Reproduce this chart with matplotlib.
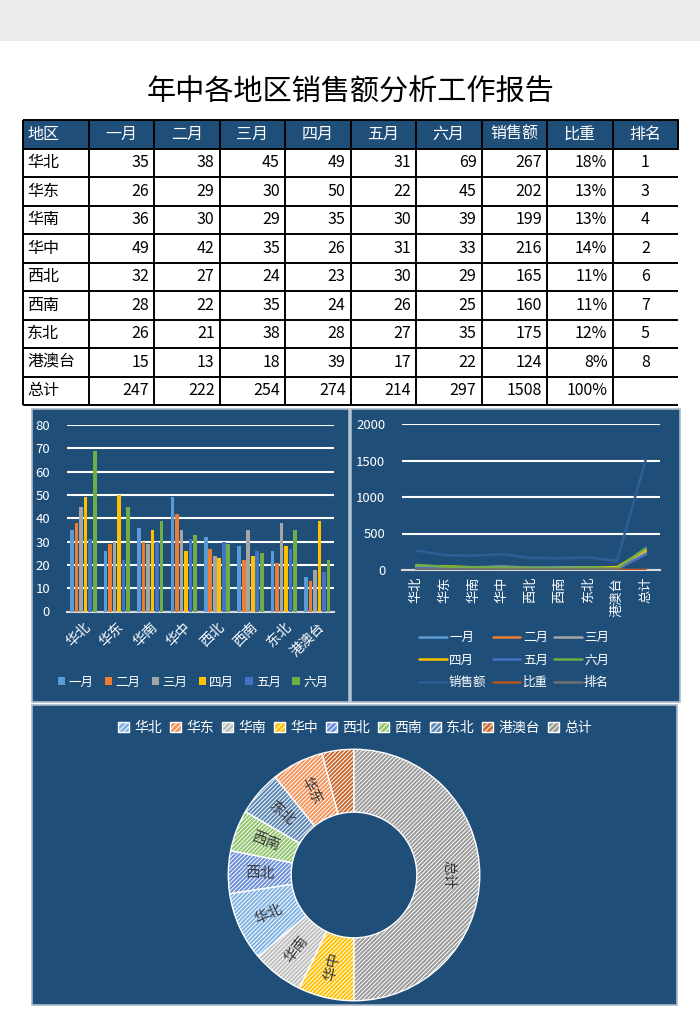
import numpy as np
import matplotlib.pyplot as plt
from matplotlib.patches import Rectangle, Patch

plt.rcParams['font.family'] = ['Noto Sans CJK SC', 'DejaVu Sans']
plt.rcParams['hatch.linewidth'] = 0.7

regions = ['华北', '华东', '华南', '华中', '西北', '西南', '东北', '港澳台']
months = ['一月', '二月', '三月', '四月', '五月', '六月']
jan = [35, 26, 36, 49, 32, 28, 26, 15]
feb = [38, 29, 30, 42, 27, 22, 21, 13]
mar = [45, 30, 29, 35, 24, 35, 38, 18]
apr = [49, 50, 35, 26, 23, 24, 28, 39]
may = [31, 22, 30, 31, 30, 26, 27, 17]
jun = [69, 45, 39, 33, 29, 25, 35, 22]
sales = [267, 202, 199, 216, 165, 160, 175, 124]
share = [0.18, 0.13, 0.13, 0.14, 0.11, 0.11, 0.12, 0.08]
rank = [1, 3, 4, 2, 6, 7, 5, 8]
total_name = '总计'
header = ['地区'] + months + ['销售额', '比重', '排名']

monthly = [jan, feb, mar, apr, may, jun]
month_totals = [sum(m) for m in monthly]
sales_total = sum(sales)

month_colors = ['#5B9BD5', '#ED7D31', '#A5A5A5', '#FFC000', '#4472C4', '#70AD47']
extra_colors = ['#2E5F94', '#B4521A', '#707070']   # 销售额, 比重, 排名
donut_colors = ['#7FB3E3', '#F2935A', '#BDBDBD', '#FFC000', '#6B8ED6',
                '#92C46E', '#5C86B3', '#C86A30', '#9A9A9A']
panel_bg = '#1F4E79'

fig = plt.figure(figsize=(7, 10.3), dpi=100)


def add_px(x0, y0, x1, y1, **kw):
    return fig.add_axes([x0 / 700, 1 - y1 / 1030, (x1 - x0) / 700, (y1 - y0) / 1030], **kw)


# base layer in pixel coordinates
base = add_px(0, 0, 700, 1030)
base.set_xlim(0, 700)
base.set_ylim(1030, 0)
base.axis('off')
base.add_patch(Rectangle((0, 0), 700, 41, color='#EBEBEB', lw=0))
base.text(350, 93, '年中各地区销售额分析工作报告', fontsize=21, ha='center', va='center', color='black')

# ---- table ----
col_x = [23 + 65.5 * i for i in range(11)]
row_y = [120 + 28.5 * i for i in range(11)]
base.add_patch(Rectangle((col_x[0], row_y[0]), col_x[10] - col_x[0], row_y[1] - row_y[0],
                         facecolor=panel_bg, lw=0))
for y in row_y:
    base.plot([col_x[0], col_x[10]], [y, y], color='black', lw=1.4, solid_capstyle='butt')
for x in col_x[:10]:
    base.plot([x, x], [row_y[0], row_y[10]], color='black', lw=1.4, solid_capstyle='butt')
base.plot([col_x[10], col_x[10]], [row_y[0], row_y[1]], color='black', lw=1.4)

fs = 11.5
for j, h in enumerate(header):
    yc = (row_y[0] + row_y[1]) / 2
    if j == 0:
        base.text(col_x[0] + 4, yc, h, color='white', fontsize=fs, ha='left', va='center')
    else:
        base.text((col_x[j] + col_x[j + 1]) / 2, yc, h, color='white', fontsize=fs, ha='center', va='center')

rows = []
for i, r in enumerate(regions):
    rows.append([r] + [str(m[i]) for m in monthly] + [str(sales[i]), f'{share[i]:.0%}', str(rank[i])])
rows.append([total_name] + [str(t) for t in month_totals] + [str(sales_total), '100%', ''])

for i, row in enumerate(rows):
    yc = (row_y[i + 1] + row_y[i + 2]) / 2
    for j, cell in enumerate(row):
        if j == 0:
            base.text(col_x[0] + 4, yc, cell, fontsize=fs, ha='left', va='center', color='black')
        elif j == 9:
            base.text((col_x[j] + col_x[j + 1]) / 2, yc, cell, fontsize=fs, ha='center', va='center', color='black')
        else:
            base.text(col_x[j + 1] - 5, yc, cell, fontsize=fs, ha='right', va='center', color='black')

# ---- panels ----
for (x0, y0, x1, y1) in [(32, 409, 349, 702), (351, 409, 680, 702), (32, 705, 677, 1005)]:
    base.add_patch(Rectangle((x0, y0), x1 - x0, y1 - y0, facecolor=panel_bg,
                             edgecolor='#A9B9CC', lw=1.2))

tick_kw = dict(colors='white', labelsize=9.5, length=0)

# ---- clustered bar chart ----
axb = add_px(66.7, 425, 334, 611.5)
axb.set_facecolor('none')
x = np.arange(len(regions))
for i, (name, vals) in enumerate(zip(months, monthly)):
    axb.bar(x + (i - 2.5) * 0.135, vals, 0.11, color=month_colors[i], label=name, zorder=3)
axb.set_xlim(-0.5, len(regions) - 0.5)
axb.set_ylim(0, 80)
axb.set_yticks(range(0, 81, 10))
axb.yaxis.grid(True, color='white', lw=1.5, zorder=0)
axb.set_axisbelow(True)
for s in ['top', 'right', 'left']:
    axb.spines[s].set_visible(False)
axb.spines['bottom'].set_color('#D9D9D9')
axb.spines['bottom'].set_linewidth(1.5)
axb.tick_params(axis='y', pad=12, **tick_kw)
axb.tick_params(axis='x', pad=6, **tick_kw)
axb.set_xticks(x)
axb.set_xticklabels(regions, rotation=45, ha='right', rotation_mode='anchor', fontsize=10)
axb.legend(loc='center', bbox_to_anchor=(193 / 700, 1 - 682 / 1030), bbox_transform=fig.transFigure,
           ncol=6, frameon=False, fontsize=9, handlelength=0.6, handleheight=0.6,
           handletextpad=0.25, columnspacing=0.9, labelcolor='white')

# ---- line chart ----
axl = add_px(402, 424, 660, 570)
axl.set_facecolor('none')
cats = regions + [total_name]
xl = np.arange(len(cats))
series = [(m, vals + [tot], c) for m, vals, tot, c in zip(months, monthly, month_totals, month_colors)]
series.append(('销售额', sales + [sales_total], extra_colors[0]))
series.append(('比重', share + [1.0], extra_colors[1]))
series.append(('排名', rank + [np.nan], extra_colors[2]))
handles = []
for name, vals, c in series:
    ln, = axl.plot(xl, vals, color=c, lw=1.8, label=name, zorder=3, solid_capstyle='round')
    handles.append(ln)
axl.set_xlim(-0.5, len(cats) - 0.5)
axl.set_ylim(0, 2000)
axl.set_yticks(range(0, 2001, 500))
axl.yaxis.grid(True, color='white', lw=1.5, zorder=0)
axl.set_axisbelow(True)
for s in ['top', 'right', 'left']:
    axl.spines[s].set_visible(False)
axl.spines['bottom'].set_color('#D9D9D9')
axl.spines['bottom'].set_linewidth(1.5)
axl.tick_params(axis='y', pad=12, **tick_kw)
axl.tick_params(axis='x', pad=5, **tick_kw)
axl.set_xticks(xl)
axl.set_xticklabels(cats, rotation=90, ha='center', va='top', fontsize=9.5)
order = [0, 3, 6, 1, 4, 7, 2, 5, 8]
axl.legend([handles[k] for k in order], [series[k][0] for k in order], loc='center',
           bbox_to_anchor=(514 / 700, 1 - 660 / 1030), bbox_transform=fig.transFigure,
           ncol=3, frameon=False, fontsize=9, handlelength=2.2, handletextpad=0.2,
           columnspacing=0.5, labelspacing=0.75, labelcolor='white')

# ---- doughnut ----
axd = add_px(227, 748, 481, 1002)
pie_names = regions + [total_name]
pie_vals = sales + [sales_total]
vis_order = [7, 1, 6, 5, 4, 0, 2, 3, 8]
wedges, _ = axd.pie([pie_vals[k] for k in vis_order], colors=[donut_colors[k] for k in vis_order],
                    startangle=90, counterclock=True, radius=1,
                    wedgeprops=dict(width=0.5, edgecolor='white', linewidth=1.0))
for w in wedges:
    w.set_hatch('////////')
for w, k in zip(wedges, vis_order):
    if pie_names[k] == '港澳台':
        continue
    mid = (w.theta1 + w.theta2) / 2
    r = 0.75
    xt, yt = r * np.cos(np.radians(mid)), r * np.sin(np.radians(mid))
    rot = mid - 180 if mid > 90 else mid
    if pie_names[k] == total_name:
        rot = -90
    axd.text(xt, yt, pie_names[k], rotation=rot, ha='center', va='center',
             fontsize=10.5, color='#3A3A3A', rotation_mode='anchor')
axd.set_xlim(-1.01, 1.01)
axd.set_ylim(-1.01, 1.01)
axd.set_aspect('equal')
leg_h = [Patch(facecolor=donut_colors[k], edgecolor='white', hatch='//////', label=pie_names[k])
         for k in range(len(pie_names))]
axd.legend(handles=leg_h, loc='center', bbox_to_anchor=(355 / 700, 1 - 728 / 1030),
           bbox_transform=fig.transFigure, ncol=9, frameon=False, fontsize=10,
           handlelength=0.8, handleheight=0.8, handletextpad=0.35, columnspacing=0.6,
           labelcolor='white')

fig.savefig('out.png', dpi=100)
